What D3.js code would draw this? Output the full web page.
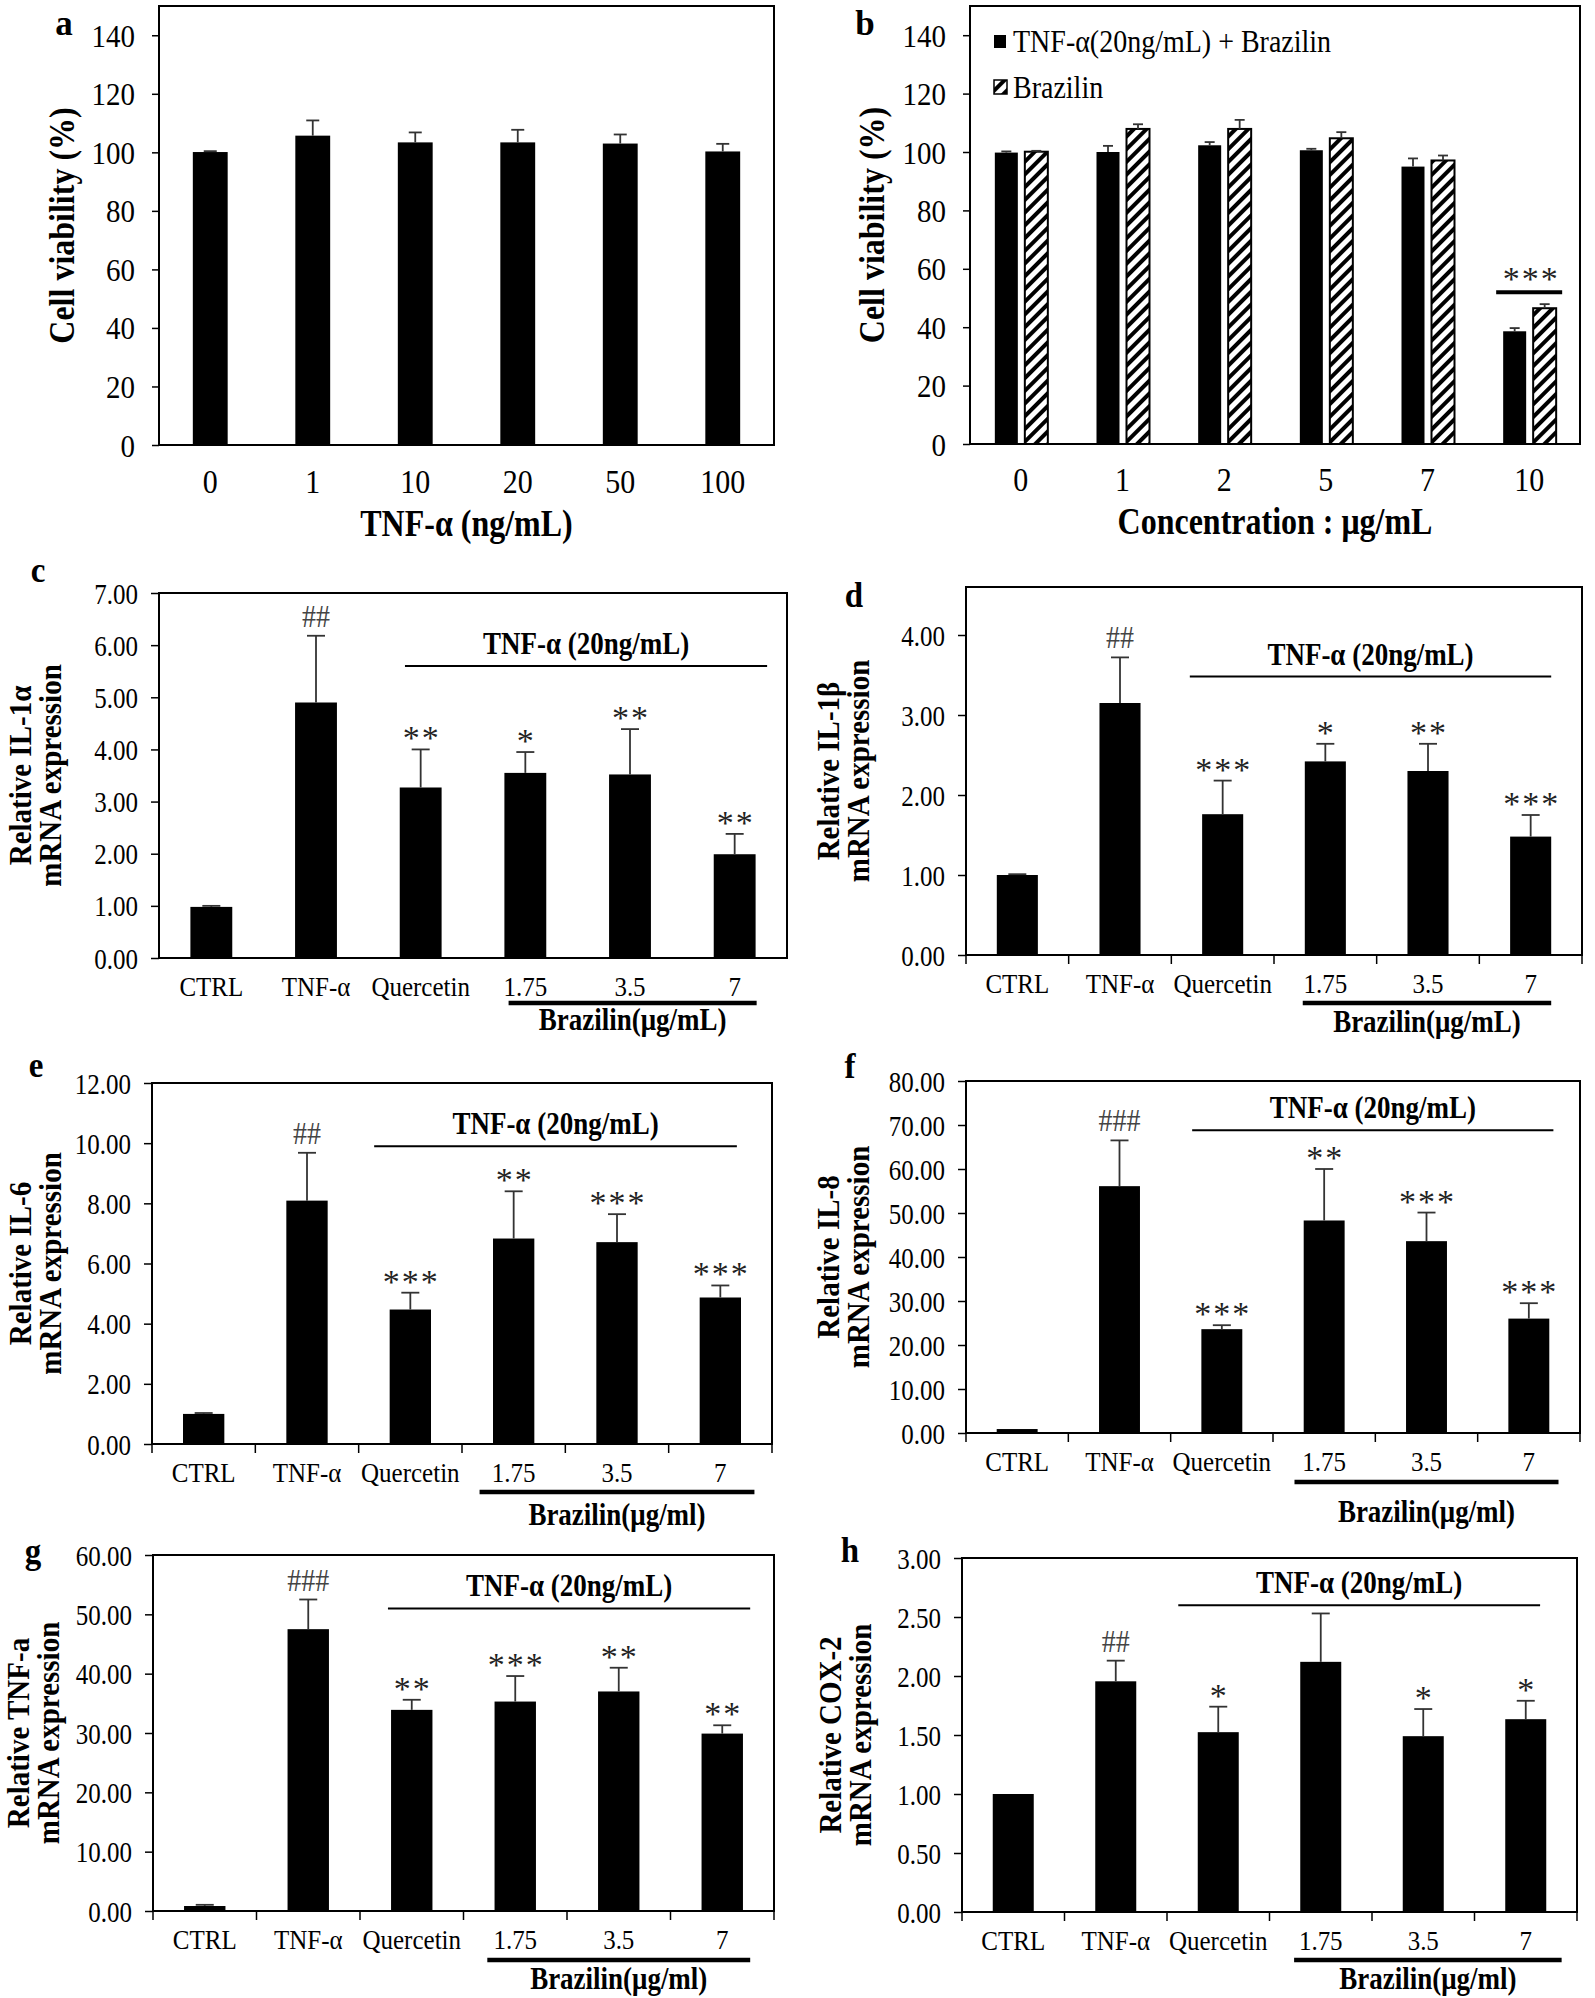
<!DOCTYPE html>
<html><head><meta charset="utf-8">
<script src="https://cdn.jsdelivr.net/npm/d3@7"></script>
<style>body{margin:0;background:#fff}</style></head>
<body><svg id="fig" width="1595" height="1998"></svg>
<script>
// ---------- DATA ----------
const panelA_categories = ["0","1","10","20","50","100"];
const panelA_values = [100.1,105.7,103.4,103.4,103.0,100.3];
const panelA_errors = [0.3,5.2,3.4,4.3,3.1,2.6];

const panelB_categories = ["0","1","2","5","7","10"];
const panelB_tnfBrazilin = [99.8,100.0,102.3,100.6,95.0,38.6];
const panelB_tnfBrazilinErr = [0.4,2.1,1.1,0.5,2.8,1.1];
const panelB_brazilin = [100.1,107.9,107.9,104.7,97.1,46.5];
const panelB_brazilinErr = [0.3,1.6,3.1,2.1,1.7,1.4];
const panelB_marks = ["","","","","","***"];
const panelB_legend = ["TNF-α(20ng/mL) + Brazilin","Brazilin"];

const mrnaCategories = ["CTRL","TNF-α","Quercetin","1.75","3.5","7"];
const il1aValues = [0.98,4.90,3.27,3.55,3.52,1.99];
const il1aErrors = [0.02,1.28,0.73,0.40,0.87,0.39];
const il1aMarks = ["","##","**","*","**","**"];
const il1bValues = [1.00,3.15,1.76,2.42,2.30,1.48];
const il1bErrors = [0.01,0.57,0.42,0.22,0.34,0.27];
const il1bMarks = ["","##","***","*","**","***"];
const il6Values = [1.00,8.09,4.47,6.83,6.71,4.87];
const il6Errors = [0.03,1.59,0.56,1.57,0.93,0.40];
const il6Marks = ["","##","***","**","***","***"];
const il8Values = [0.9,56.1,23.6,48.3,43.6,26.0];
const il8Errors = [0.1,10.4,0.9,11.7,6.5,3.5];
const il8Marks = ["","###","***","**","***","***"];
const tnfValues = [0.84,47.5,33.9,35.3,37.0,29.9];
const tnfErrors = [0.2,5.0,1.7,4.3,4.0,1.4];
const tnfMarks = ["","###","**","***","**","**"];
const cox2Values = [1.00,1.955,1.524,2.12,1.49,1.634];
const cox2Errors = [0,0.175,0.216,0.41,0.23,0.156];
const cox2Marks = ["","##","*","","*","*"];

// ---------- DRAWING ----------
const svg = d3.select("#fig");
const serif = "'Liberation Serif','Times New Roman',serif";
const defs = svg.append("defs");
const pat = defs.append("pattern").attr("id","hatch").attr("patternUnits","userSpaceOnUse")
  .attr("width",9).attr("height",9).attr("patternTransform","rotate(45)");
pat.append("rect").attr("width",9).attr("height",9).attr("fill","#fff");
pat.append("rect").attr("width",4).attr("height",9).attr("fill","#000");

function txt(g, s, x, y, size, opts={}) {
  const sy = opts.sy || 1;
  return g.append("text").attr("transform",`translate(${x},${y}) scale(1,${sy})`).text(s)
    .attr("font-family",serif).attr("font-size",size)
    .attr("font-weight",opts.bold?"bold":"normal")
    .attr("text-anchor",opts.anchor||"middle")
    .attr("fill",opts.fill||"#000")
    .attr("letter-spacing",opts.ls||0);
}

function yAxis(g, y, L, ticks, fmt, size, tsize, pad, sy) {
  const ax = g.append("g").attr("transform",`translate(${L},0)`)
    .call(d3.axisLeft(y).tickValues(ticks).tickFormat(fmt).tickSize(tsize).tickSizeOuter(0).tickPadding(pad));
  ax.select(".domain").remove();
  ax.selectAll(".tick line").attr("stroke","#000").attr("stroke-width",1.5);
  ax.selectAll(".tick text").each(function(){
    const t = d3.select(this);
    const xx = +t.attr("x");
    t.attr("x",null).attr("dy",null)
     .attr("transform",`translate(${xx},0) scale(1,${sy}) translate(0,${size*0.34})`);
  });
  ax.selectAll(".tick text").attr("font-family",serif).attr("font-size",size).attr("fill","#000");
}

function frame(g, L,R,T,B) {
  g.append("rect").attr("x",L).attr("y",T).attr("width",R-L).attr("height",B-T)
    .attr("fill","none").attr("stroke","#000").attr("stroke-width",2);
}

function errBar(g, cx, y0, y1, cap) {
  if (Math.abs(y0-y1) < 0.5) return;
  g.append("line").attr("x1",cx).attr("x2",cx).attr("y1",y0).attr("y2",y1).attr("stroke","#333").attr("stroke-width",1.8);
  g.append("line").attr("x1",cx-cap/2).attr("x2",cx+cap/2).attr("y1",y1).attr("y2",y1).attr("stroke","#333").attr("stroke-width",1.8);
}

function rotTitle(g, lines, xs, cy, size, sy) {
  lines.forEach((s,i)=>{
    g.append("text").attr("transform",`translate(${xs[i]+0.3*size*sy},${cy}) rotate(-90) scale(1,${sy})`)
      .attr("text-anchor","middle").attr("font-family",serif).attr("font-weight","bold")
      .attr("font-size",size).text(s);
  });
}

const SB = 1.18;  // vertical stretch of bold texts
const SR = 1.08;  // vertical stretch of rotated titles
const ST = 1.12;  // vertical stretch of tick labels

// ---- Panel a ----
(function(){
  const g = svg.append("g");
  const L=159,R=774,T=6,B=445;
  const x = d3.scaleBand().domain(panelA_categories).range([L,R]);
  const y = d3.scaleLinear().domain([0,150]).range([B,T]);
  yAxis(g,y,L,d3.range(0,141,20),d3.format("d"),29,7,17,ST);
  const bw = x.bandwidth()*0.34;
  panelA_categories.forEach((c,i)=>{
    const cx = x(c)+x.bandwidth()/2;
    g.append("rect").attr("x",cx-bw/2).attr("y",y(panelA_values[i])).attr("width",bw)
      .attr("height",B-y(panelA_values[i])).attr("fill","#000");
    errBar(g,cx,y(panelA_values[i]),y(panelA_values[i]+panelA_errors[i]),13);
    txt(g,c,cx,B+48,30,{sy:ST});
  });
  frame(g,L,R,T,B);
  txt(g,"a",64,35,35,{bold:true,sy:1.05});
  rotTitle(g,["Cell viability (%)"],[63],(T+B)/2,32,1.12);
  txt(g,"TNF-α (ng/mL)",(L+R)/2,536,32,{bold:true,sy:SB});
})();

// ---- Panel b ----
(function(){
  const g = svg.append("g");
  const L=970,R=1580,T=6,B=444;
  const x = d3.scaleBand().domain(panelB_categories).range([L,R]);
  const y = d3.scaleLinear().domain([0,150]).range([B,T]);
  yAxis(g,y,L,d3.range(0,141,20),d3.format("d"),29,7,17,ST);
  const bw = 23, gap = 3;
  panelB_categories.forEach((c,i)=>{
    const cx = x(c)+x.bandwidth()/2;
    const v1 = panelB_tnfBrazilin[i], e1 = panelB_tnfBrazilinErr[i];
    const v2 = panelB_brazilin[i], e2 = panelB_brazilinErr[i];
    g.append("rect").attr("x",cx-gap-bw).attr("y",y(v1)).attr("width",bw).attr("height",B-y(v1)).attr("fill","#000");
    g.append("rect").attr("x",cx+gap+1).attr("y",y(v2)).attr("width",bw).attr("height",B-y(v2))
      .attr("fill","url(#hatch)").attr("stroke","#000").attr("stroke-width",2);
    errBar(g,cx-gap-bw/2,y(v1),y(v1+e1),10);
    errBar(g,cx+gap+1+bw/2,y(v2),y(v2+e2),10);
    if (panelB_marks[i]) {
      const top = y(Math.max(v1+e1,v2+e2));
      g.append("line").attr("x1",cx-33).attr("x2",cx+33).attr("y1",top-12).attr("y2",top-12).attr("stroke","#000").attr("stroke-width",4);
      txt(g,panelB_marks[i],cx+2,top-12-2,34,{ls:2,fill:"#222"});
    }
    txt(g,c,cx,B+47,30,{sy:ST});
  });
  frame(g,L,R,T,B);
  // legend
  g.append("rect").attr("x",994).attr("y",35).attr("width",12).attr("height",13).attr("fill","#000");
  txt(g,panelB_legend[0],1013,52,28,{anchor:"start",sy:ST});
  g.append("rect").attr("x",994).attr("y",80).attr("width",13).attr("height",14).attr("fill","url(#hatch)").attr("stroke","#000").attr("stroke-width",1.5);
  txt(g,panelB_legend[1],1013,98,28,{anchor:"start",sy:ST});
  txt(g,"b",865,35,35,{bold:true,sy:1.05});
  rotTitle(g,["Cell viability (%)"],[873],(T+B)/2,32,1.12);
  txt(g,"Concentration : μg/mL",(L+R)/2,534,32,{bold:true,sy:SB});
})();

// ---- mRNA panels ----
const mrnaPanels = [
  {letter:"c",lx:38,ly:582,L:159,R:787,T:593,B:958,yMax:7,ticks:d3.range(0,7.01,1),
   title:["Relative IL-1α","mRNA expression"],tx:[22,52],xTicks:false,
   values:il1aValues,errors:il1aErrors,marks:il1aMarks,
   tnfY:5.6,tnfA:0.15,tnfB:0.31,brA:0.16,brB:0.21,brText:"Brazilin(μg/mL)",brLine:45,brTextDy:72},
  {letter:"d",lx:854,ly:607,L:966,R:1582,T:587,B:955,yMax:4.6,ticks:d3.range(0,4.01,1),
   title:["Relative IL-1β","mRNA expression"],tx:[830,860],xTicks:true,
   values:il1bValues,errors:il1bErrors,marks:il1bMarks,
   tnfY:3.48,tnfA:0.32,tnfB:0.2,brA:0.22,brB:0.2,brText:"Brazilin(μg/mL)",brLine:48,brTextDy:77},
  {letter:"e",lx:36,ly:1077,L:152,R:772,T:1083,B:1444,yMax:12,ticks:d3.range(0,12.01,2),
   title:["Relative IL-6","mRNA expression"],tx:[22,52],xTicks:true,
   values:il6Values,errors:il6Errors,marks:il6Marks,
   tnfY:9.9,tnfA:0.35,tnfB:0.16,brA:0.33,brB:0.33,brText:"Brazilin(μg/ml)",brLine:48,brTextDy:81},
  {letter:"f",lx:850,ly:1078,L:966,R:1580,T:1081,B:1433,yMax:80,ticks:d3.range(0,80.1,10),
   title:["Relative IL-8","mRNA expression"],tx:[830,860],xTicks:true,
   values:il8Values,errors:il8Errors,marks:il8Marks,
   tnfY:68.8,tnfA:0.29,tnfB:0.24,brA:0.29,brB:0.29,brText:"Brazilin(μg/ml)",brLine:49,brTextDy:89},
  {letter:"g",lx:33,ly:1563,L:153,R:774,T:1555,B:1911,yMax:60,ticks:d3.range(0,60.1,10),
   title:["Relative TNF-a","mRNA expression"],tx:[20,50],xTicks:true,
   values:tnfValues,errors:tnfErrors,marks:tnfMarks,
   tnfY:51.0,tnfA:0.23,tnfB:0.27,brA:0.27,brB:0.27,brText:"Brazilin(μg/ml)",brLine:49,brTextDy:78},
  {letter:"h",lx:850,ly:1562,L:962,R:1577,T:1558,B:1912,yMax:3,ticks:d3.range(0,3.01,0.5),
   title:["Relative COX-2","mRNA expression"],tx:[832,862],xTicks:true,
   values:cox2Values,errors:cox2Errors,marks:cox2Marks,
   tnfY:2.60,tnfA:0.39,tnfB:0.14,brA:0.26,brB:0.35,brText:"Brazilin(μg/ml)",brLine:48,brTextDy:77}
];

mrnaPanels.forEach(p=>{
  const g = svg.append("g");
  const {L,R,T,B} = p;
  const x = d3.scaleBand().domain(mrnaCategories).range([L,R]);
  const y = d3.scaleLinear().domain([0,p.yMax]).range([B,T]);
  const bwid = x.bandwidth();
  yAxis(g,y,L,p.ticks,d3.format(".2f"),25,8,13,1.18);
  const bw = bwid*0.40;
  const cxOf = c => x(c)+bwid/2;
  mrnaCategories.forEach((c,i)=>{
    const cx = cxOf(c), v=p.values[i], e=p.errors[i];
    g.append("rect").attr("x",cx-bw/2).attr("y",y(v)).attr("width",bw).attr("height",B-y(v)).attr("fill","#000");
    errBar(g,cx,y(v),y(v+e),18);
    const m = p.marks[i];
    if (m) {
      const top = y(v+e);
      if (m[0]==="#") txt(g,m,cx,top-9,28,{fill:"#444",sy:1.1});
      else txt(g,m,cx+1,top,34,{ls:2,fill:"#222"});
    }
    txt(g,c,cx,B+38,25,{sy:1.05});
  });
  if (p.xTicks) {
    g.selectAll(null).data(d3.range(7)).enter().append("line")
      .attr("x1",i=>L+i*x.step()).attr("x2",i=>L+i*x.step())
      .attr("y1",B).attr("y2",B+9).attr("stroke","#000").attr("stroke-width",1.5);
  }
  frame(g,L,R,T,B);
  // TNF-α bracket
  const tx1 = cxOf("Quercetin")-p.tnfA*bwid, tx2 = cxOf("7")+p.tnfB*bwid, ty = y(p.tnfY);
  g.append("line").attr("x1",tx1).attr("x2",tx2).attr("y1",ty).attr("y2",ty).attr("stroke","#000").attr("stroke-width",2);
  txt(g,"TNF-α (20ng/mL)",(tx1+tx2)/2,ty-12,27,{bold:true,sy:SB});
  // Brazilin bracket
  const bx1 = cxOf("1.75")-p.brA*bwid, bx2 = cxOf("7")+p.brB*bwid;
  g.append("line").attr("x1",bx1).attr("x2",bx2).attr("y1",B+p.brLine).attr("y2",B+p.brLine).attr("stroke","#000").attr("stroke-width",4.5);
  txt(g,p.brText,(bx1+bx2)/2,B+p.brTextDy,27,{bold:true,sy:SB});
  txt(g,p.letter,p.lx,p.ly,33,{bold:true,sy:1.1});
  rotTitle(g,p.title,p.tx,(T+B)/2,29,SR);
});
</script>
</body></html>
